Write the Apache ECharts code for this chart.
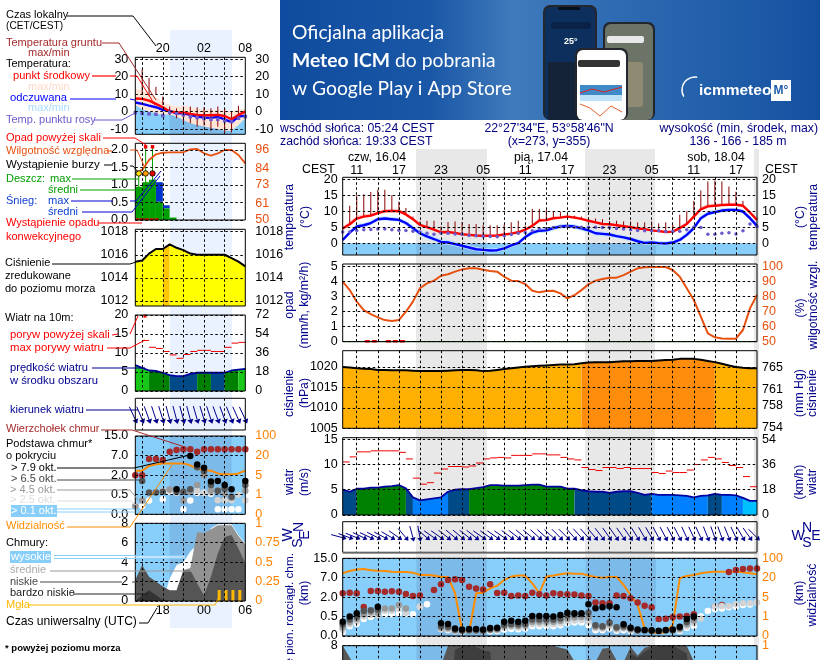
<!DOCTYPE html>
<html><head><meta charset="utf-8">
<style>html,body{margin:0;padding:0;background:#fff}#c{width:820px;height:660px}</style>
<script src="https://cdn.jsdelivr.net/npm/echarts@6/dist/echarts.min.js"></script>
</head><body><div id="c"></div>
<script>
// ---------- main meteogram (hourly, CEST hours counted from 16.04 00:00) ----------
const hoursMain=Array.from({length:60},(_,i)=>9+i);
const dayLabels=['czw, 16.04','pią, 17.04','sob, 18.04'];
const tempMain=[4.6,5.9,7.7,8.3,8.6,9.4,10,10.1,10,9,7.5,5.7,5,4.2,3.4,3.5,3.2,2.8,2.6,2.4,2.3,2.3,2.4,2.7,3,3.4,4.2,5.4,7.1,7.2,7.8,8,8.3,8,7.6,7,6.5,6,5.9,5.6,5.3,5,4.6,4.4,4,3.75,3.5,3.6,4.7,6,8.3,10.6,11.5,11.7,11.9,12,12,11.7,9.6,7.3];
const tempMaxMain=[5.2,6.8,8.6,9.1,9.3,10,10.6,10.8,10.6,9.6,8,6.2,5.4,4.6,3.8,3.9,3.5,3.1,2.9,2.7,2.6,2.6,2.7,3,3.4,3.8,4.6,6,7.7,7.8,8.3,8.5,8.7,8.5,8,7.4,6.9,6.3,6.2,5.9,5.6,5.3,4.9,4.7,4.3,4,3.8,3.9,5.2,6.7,9,11.4,12.3,12.4,12.6,12.7,12.6,12.3,10.1,7.8];
const tempMinMain=[4.2,5.5,7.3,7.9,8.2,9,9.6,9.7,9.6,8.6,7.2,5.5,4.8,4,3.2,3.3,3,2.6,2.4,2.2,2.1,2.1,2.2,2.5,2.8,3.2,4,5.2,6.8,7,7.6,7.8,8.1,7.8,7.4,6.8,6.3,5.8,5.7,5.4,5.1,4.8,4.4,4.2,3.8,3.5,3.3,3.4,4.5,5.7,8,10.3,11.2,11.4,11.6,11.7,11.7,11.4,9.3,7];
const feelMain=[1,3.3,5.2,5.6,6.3,7.5,7.7,7.5,7.3,6.3,4.7,3.1,2.1,1.3,.4,.2,-.3,-.8,-1.35,-1.9,-2.1,-2.3,-2.2,-1.6,-.7,0,1.9,3.3,3.9,4,4.7,5.2,5.4,5.2,4.6,4,3.1,2.9,2.7,2.2,1.8,1.3,.6,.1,.2,0,-.1,.2,1,2.6,4.7,7.8,9.2,9.7,10.2,10.4,10.4,9.9,7.8,5.4];
const feelMaxMain=[1.5,4,6,6.3,7,8.2,8.4,8.2,8,7,5.5,4,3,2.1,1.2,1,.5,0,-.6,-1.2,-1.5,-1.7,-1.6,-1,-.1,.7,2.7,4.1,4.7,4.8,5.4,5.9,6.1,5.9,5.3,4.7,3.9,3.6,3.4,2.9,2.5,2,1.3,.8,.9,.7,.6,.9,1.8,3.4,5.6,8.6,10,10.4,10.9,11,11,10.6,8.6,6.2];
const feelMinMain=[.5,2.7,4.5,5,5.7,6.9,7.1,6.9,6.7,5.7,4,2.4,1.4,.6,-.3,-.5,-1,-1.5,-2,-2.5,-2.7,-2.9,-2.8,-2.2,-1.3,-.6,1.2,2.6,3.2,3.3,4,4.5,4.7,4.5,3.9,3.3,2.4,2.2,2,1.5,1.1,.6,0,-.5,-.4,-.6,-.7,-.4,.4,1.9,4,7.2,8.6,9.1,9.6,9.8,9.8,9.3,7.2,4.7];
const dewMain=[3.5,3.5,4,4.2,4.3,4.4,4.4,4.2,4.05,3.95,3.75,3.5,3.1,2.8,3.1,3.1,2.9,2.8,2.4,2.3,2.2,2.1,2,2.3,2.7,3.1,3.3,3.85,4.4,4.6,4.9,5.2,5.2,5,5,5,5,4.9,4.9,4.6,4.4,4.2,3.95,3.85,3.85,3.85,3.65,3.65,3.75,4.2,5,4.9,2.8,2.8,3.1,3.25,2.9,3.85,6,5.2];
const groundMaxMain=[null,11.7,15,15.3,16,16.7,16.7,15,13,11,8.3,6.8,7,7,5.2,6.6,6.8,6.6,6,6,5.6,5.6,5.6,5.8,6.5,7,5.5,10.7,10.7,10.4,10,9.8,8.9,8.6,8.3,7.6,7.7,7.5,6.9,7,6.8,6.8,6.5,6.5,6.8,6.2,6.5,5.8,8.9,9.9,13.2,16.5,19.3,19.6,19.3,17.7,16.1,13.2,null,null];
const humidityMain=[90,84.4,76.7,71,68.4,66.2,64.4,63.8,64.4,70,76.7,85.6,88.9,90.7,94,95,96.7,98.2,98.9,98.9,98,97.1,96.7,93.3,90.7,90.4,88.4,84,82.9,83.8,84,82.2,78.9,81,84.4,88.2,90.7,91.8,92.7,92.7,94.4,96.7,98.9,99.6,99.8,99.8,99.8,97.8,93.3,85.6,77.8,66.7,55.6,52.9,52.2,52,52,57.8,72.2,81.1];
const precipMain=[0,0,0,0,0,0,0,0,0,0,0,0,0,0,0,0,0,0,0,0,0,0,0,0,0,0,0,0,0,0,0,0,0,0,0,0,0,0,0,0,0,0,0,0,0,0,0,0,0,0,0,0,0,0,0,0,0,0,0,0];
const convectiveMain=[12.5,13.5,15.5,16.5,17.5];
const pressureMain=[1020,1019.9,1019.7,1019.6,1019.5,1019.3,1019.3,1019.2,1019.2,1019.2,1019.1,1019,1019,1019,1019,1019.1,1019.2,1019.3,1019.3,1019.2,1019,1019.1,1019.3,1019.5,1019.7,1019.9,1020.1,1020.2,1020.3,1020.4,1020.5,1020.6,1020.6,1020.7,1020.9,1021.1,1021.2,1021.2,1021.2,1021.3,1021.4,1021.4,1021.5,1021.5,1021.5,1021.6,1021.7,1021.8,1022,1022,1022,1021.8,1021.5,1021.2,1020.8,1020.4,1020,1019.8,1019.7,1019.7];
const pressureBandMain='AAAAAAAAAAAAAAAAAAAAAAAAAAAAAAAAAAOOOOOOOOOOOOOOOOOOOAAAAAA';
const windMain=[5,4.6,5.2,5.2,5.4,5.4,5.6,5.7,5.9,5.3,3.5,2.9,3.1,3.3,3.5,4.6,5,5.1,5.1,5.3,5.5,5.9,5.9,5.8,5.8,5.8,5.9,6,6,5.6,5.6,5.6,5.2,5.2,4.9,4.7,4.6,4.6,4.4,4.6,4.7,4.7,4.4,4,4.2,4,4,4,3.9,3.8,3.5,3.8,3.9,4.2,4,4,3.9,3.4,2.8,2.8];
const windBandMain='NNGGGGGGGNBBBBBNNNGGGGGGGGGGGGGGGNNNNNNNNNNNBBBBBBBBNNBBBCC';
const gustMain=[10.5,11.5,12.5,12.5,12.7,12.7,12.7,12.7,12.4,11.1,7.3,6.1,6.4,8.3,9.1,9.6,9.6,9.5,9.7,10.3,11.1,11.3,11.4,11.3,11.8,11.8,11.8,12.1,12.1,11.9,11.9,11.4,11.1,10.9,9.4,9,8.8,9.4,9.4,9.2,9.4,9.2,9.2,9.2,8.4,8.2,8.7,8.4,8.4,8.9,10,10.9,11.4,11.1,10.4,9.8,9.4,7.6,5.6];
const windDirMain=[285,290,292,295,295,297,298,300,305,320,345,350,310,305,305,308,310,310,308,308,305,305,305,305,307,308,310,310,312,312,312,315,315,318,318,318,320,322,325,325,325,325,328,330,330,332,332,332,332,335,335,335,338,340,340,338,335,330,325,315];
// cloud panels: values are given in axis steps (tick 0..4 = 0 / 0.5 / 2 / 7 / 15 km)
const cloudTopMain=[2.2,2.23,2.2,1.49,2.32,2.32,2.28,2.3,2.28,2.16,2.06,2.08,null,2.37,2.66,2.88,2.92,2.88,2.54,2.45,2.4,2.66,2.21,2.23,2.06,2.09,2.06,2.23,2.15,2.09,2.2,2.16,2.15,2.13,2.08,2.06,1.73,1.68,1.68,2.08,2.06,1.94,1.73,1.56,1.48,.88,.89,.96,1,1.03,1.12,null,null,1.51,1.6,3.3,3.4,3.45,3.47,3.47];
const base79Main=[.74,1,1.17,null,null,1.51,null,null,null,null,null,null,null,null,.65,.62,.38,.34,.36,.36,.34,.41,.43,.74,.79,.74,.79,1.03,1.03,1.03,1,1.08,1.2,1.17,1.17,1.63,1.43,1.48,1.53,1.48,.6,.43,.34,.31,.29,.27,.31,.34,.48,.88,1,null,null,null,null,null,null,null,null,null];
const base65Main=[.6,.85,1,1.29,1.33,1.35,null,null,null,null,null,null,null,null,.5,.48,.32,.28,.3,.3,.28,.35,.38,.58,.62,.6,.62,.85,.85,.85,.85,.9,1.05,1.1,1.12,1.2,.55,.5,.7,.45,.5,.38,.3,.28,.26,.25,.28,.3,.42,.72,.95,null,null,null,null,null,null,null,null,null];
const base45Main=[.45,.72,.88,1.12,1.22,1.2,1.42,1.42,1.6,1.42,null,null,null,null,.42,.4,.28,.25,.27,.27,.25,.32,.34,.5,.54,.52,.54,.74,.74,.74,.74,.78,.9,.95,.98,.95,.47,.44,.6,.4,.44,.34,.27,null,null,null,null,.27,.36,.6,.8,null,null,null,null,null,null,null,null,null];
const base25Main=[.32,.6,.75,1,1.1,1.05,1.3,1.3,1.4,1.2,null,1.5,null,null,.35,.34,.25,null,null,null,null,.28,.3,.42,.47,.44,.47,.62,.62,.62,.62,.66,.75,.8,.82,.72,.4,.38,.5,.34,.38,.3,null,null,null,null,null,null,.3,.5,.66,.9,null,1.52,1.55,1.55,1.63,1.68,1.68,1.72];
const base01Main=[.2,.5,.63,.87,.98,1.15,1.12,1.12,1.17,1.15,1.12,1.51,1.63,null,.57,.3,.24,.22,null,null,null,.24,.26,.33,.36,.35,.38,.5,.5,.5,.5,.55,.65,.7,.7,.55,.3,.3,.38,.27,.3,.25,null,null,null,null,null,null,.26,.42,.52,1,1.29,1.39,1.42,1.48,1.51,1.6,1.62,1.72];
const visibilityMain=[3.23,3.35,3.42,3.45,3.38,3.36,3.35,3.31,3.3,3.3,3.26,3.14,3.14,3.11,3.04,3.04,2.2,.31,.19,2.2,2.23,2.45,2.59,2.88,3.06,3.11,3.11,2.71,2.2,3.06,3.11,3.18,3.23,3.21,3.21,3.11,3.04,3,3.04,3.04,2.63,2.11,1.6,.39,.19,.15,.19,.57,2.97,3.09,3.14,3.23,3.28,3.31,3.31,3.31,3.31,3.28,3.23,3.18];
const cloudsLowMain=[8,6.8,5.5,5,4.8,4.5,4.5,4.5,4.5,4.6,4.8,5,5.2,5.6,6,8,8,8,8,8,8,8,8,8,8,8,8,8,8,8,8,7.8,7.6,6.4,6,6.7,6.3,7.7,7.8,6.5,6.3,7.9,7,7.8,8,8,8,8,8,8,6.4,5.5,5,5,5,5,5,5,5,5];
const cloudsVeryLowMain=[0,0,0,0,0,0,0,0,0,0,0,0,0,0,0,0,7.6,7.9,8,7.9,7.5,7.4,0,0,0,0,0,0,0,0,0,0,0,0,0,0,0,0,0,0,0,7.2,6.8,7.4,7.8,8,8,8,7.6,7.2,0,0,0,0,0,0,0,0,0,0];
// ---------- small left key panel (sample forecast, 16:00 -> 08:00) ----------
const hoursKey=[16,17,18,19,20,21,22,23,24,25,26,27,28,29,30,31,32];
const tempKey=[7.5,7.3,6.3,4.4,2.5,0,-.4,-.6,-1.3,-1.9,-2.1,-2.1,-1.9,-2.5,-4.4,-1.9,0];
const tempTopKey=[13.4,12,10.5,8.2,5.7,3.8,2.9,3.3,2.5,1.7,1.3,1,1,.6,0,1,1.9];
const feelKey=[5.2,4.4,3.4,2.5,1,.4,-1,-1,-1.9,-2.9,-3.4,-3.6,-3,-4.4,-6.1,-2.9,-2.3];
const feelTopKey=[3.8,1.3,0,-1,-1.9,-1.5,-2.9,-4.8,-6.7,-7.7,-8.6,-9.2,-10,-11,-11,-7.7,-3.8];
const dewKey=[-.6,-1,-1.3,-1.5,-2.3,-.4,-1,-1.9,-2.9,-3.4,-4,-4.4,-4.4,-5.2,-5.7,-3.8,-2.9];
const groundMaxKey=[null,24.3,19.2,14.2,8.6,2.9,1.9,2.9,2.9,2.5,2.5,1.9,2.9,1.9,0,3.3,null];
const groundMinKey=[null,9.6,9,10,3.8,-2,-3.8,-6.7,-6.7,-8.6,-8,-11,-8.6,-12,-12,-4.8,null];
const humidityKey=[80.7,82.9,89.4,93.2,94.2,94.5,94.5,94.5,96.4,96.7,93.8,92.3,93.8,96,96,92.7,87.2];
const rainKey=[.95,1.08,1.15,.52,.33,.07,0,0,0,0,0,0,0,0,0,0];
const snowTopKey=[0,0,0,1.08,.42,0,0,0,0,0,0,0,0,0,0,0];
const rainMaxHours=[16.5,17.5,18.5];
const rainMaxKey=[1.33,2.05,2.1];
const stormColors=['#FFE000','#FFA000','#E00000'];
const overScaleHours=[17.5,18.5];
const convectiveKey=[16.3,17,17.7,18.4,19.1];
const pressureKey=[1015.4,1015.5,1016.1,1016.5,1016.5,1016.9,1016.6,1016.4,1016.1,1016,1016,1016,1016,1016,1015.7,1015.4,1015];
const pressureBandKey='YYYYOYYYYYYYYYYY';
const windKey=[6.8,6.1,5.4,5.3,4.8,4.2,3.9,3.9,4.5,4.8,4.8,4.8,4.8,4.8,5.4,5.6,5.8];
const windBandKey='LLGGGNNNNGGNNGGL';
const gustKey=[null,13.3,11.5,11.2,10.4,9.5,8.6,9.6,10.4,10.7,10.7,10.4,10.4,11.5,12.6,12.8];
const windDirKey=[335,337,340,342,343,345,345,345,345,344,343,342,340,340,338,336,335];
const cloudTopKey=[2,2,2.83,2.83,2.77,3.2,3.29,3.32,3.32,3.2,3.32,3.32,3.32,3.32,3.32,3.32,3.32];
const base79Key=[null,null,null,null,null,null,1.28,null,2.98,2.55,2.38,1.67,1.7,1.5,1.28,null,1.7];
const base65Key=[null,1.7,1.12,1.12,1.15,null,1.15,1.15,1.28,2.4,2.2,1.5,1.2,1.3,.9,null,1.5];
const base45Key=[.4,.7,null,null,null,1.27,1.25,.7,1.15,1.5,2,1.2,1.2,1.05,.85,null,1.2];
const base25Key=[.45,null,null,null,1.2,1.2,1.1,null,null,1.2,1.1,1.1,.72,.72,.72,1,.7];
const base01Key=[null,.43,.7,null,.77,1.15,1.15,.26,.7,1.1,1.1,1.05,.26,.26,.26,.26,null];
const visibilityKey=[2.23,2.23,2.47,2.55,2.6,2.6,2.6,2.6,2.5,2.33,2.26,2.23,2.09,2.04,2.04,2.09,2.23];
const cloudsHighKey=[0,0,0,0,0,2.3,3.7,4,5.1,5.8,5.95,7.5,7.9,7.9,7.9,6.8,5.95];
const cloudsMidKey=[0,0,0,0,0,0,.4,3.2,3.4,7.1,7,7.4,7.8,7.8,7.8,6.7,5.85];
const cloudsLowKey=[2.2,3.7,2.5,2,1.5,1.1,1.1,3.2,3.2,1.8,.6,2.5,4.9,6.6,6.8,5.4,3.9];
const cloudsVeryLowKey=[0,.6,1.1,.6,.1,0,0,0,0,0,0,0,0,0,0,0,0];
const fogHours=[28.2,29.2,30.2,31.2];
const fogKey=[1.13,1.13,1.13,1.13];
// tick labels
const tickMainTop=[11,17,23,29,35,41,47,53,59,65];
const tickKeyTop=[20,26,32];
const cloudBaseLabels=['0.0','0.5','2.0','7.0','15.0'];
const visibilityLabels=['0','1','5','20','100'];

const FONT='"Liberation Sans",Arial,sans-serif';
const SKY='#87CEFA';
const NIGHT='rgba(70,90,150,0.17)';
const xMainGrid=[11,14,17,20,23,26,29,32,35,38,41,44,47,50,53,56,59,62,65];
const xKeyGrid=[17,20,23,26,29];
const pad=v=>String(((v%24)+24)%24).padStart(2,'0');

const grids=[],xAxes=[],yAxes=[],series=[];
const zip=(xs,ys)=>xs.map((x,i)=>[x,ys[i]===undefined?null:ys[i]]);
const nn=(xs,ys)=>zip(xs,ys).filter(d=>d[1]!=null);
function panel(cfg){
  const id=grids.length, main=cfg.main;
  grids.push({left:main?342.7:135.3,top:cfg.top,width:main?414.3:110,height:cfg.h,show:true,backgroundColor:'transparent',borderColor:'#000',borderWidth:1,z:8,containLabel:false,outerBoundsMode:'none'});
  const xg=main?xMainGrid:xKeyGrid;
  xAxes.push({type:'value',gridIndex:id,min:main?9:16,max:main?68:32,position:cfg.xPos||'top',z:5,
    axisLine:{show:false},axisTick:{show:false,customValues:xg},
    axisLabel:{show:!!cfg.xLabels,customValues:cfg.xLabels||[],margin:main?0:(cfg.xPos?3:2),color:'#000',fontFamily:FONT,fontSize:12.5,formatter:cfg.xFmt||(v=>pad(v))},
    splitLine:{show:true,lineStyle:{color:'#000',type:[2.5,2.5],width:1}}});
  const yA=(o,side)=>({type:'value',gridIndex:id,position:side,min:o.min,max:o.max,z:5,
    axisLine:{show:false},axisTick:{show:false,customValues:o.ticks},
    axisLabel:{show:!!o.ticks.length,customValues:o.ticks,margin:side==='left'?(main?5:7):(main?5:10),color:o.color||'#000',fontFamily:FONT,fontSize:12.5,showMinLabel:true,showMaxLabel:true,formatter:o.fmt||(v=>String(v))},
    splitLine:{show:side==='left'&&!o.noSplit,lineStyle:{color:'#000',type:[2.5,2.5],width:1}}});
  yAxes.push(yA(cfg.l,'left'));
  yAxes.push(yA(cfg.r,'right'));
  return id;
}
const ax=(g,right)=>({xAxisIndex:g,yAxisIndex:g*2+(right?1:0)});
const common={silent:true,animation:false,z:2};
function line(g,xs,ys,color,width,right){series.push({type:'line',...ax(g,right),...common,data:zip(xs,ys),showSymbol:false,connectNulls:false,lineStyle:{color,width:width||2}});}
function area(g,xs,ys,color,right){series.push({type:'line',...ax(g,right),...common,data:zip(xs,ys),showSymbol:false,lineStyle:{width:0,color},itemStyle:{color},areaStyle:{color,opacity:1,origin:'start'}});}
function bandAreas(g,xs,ys,bands,colors){
  let s=0;
  for(let i=1;i<=bands.length;i++){
    if(i===bands.length||bands[i]!==bands[s]){ area(g,xs.slice(s,i+1),ys.slice(s,i+1),colors[bands[s]]); s=i; }
  }
}
function dots(g,xs,ys,color,size,sym,right,extra){series.push({type:'scatter',...ax(g,right),...common,clip:true,data:nn(xs,ys),symbol:sym||'circle',symbolSize:size,itemStyle:Object.assign({color,opacity:1},extra||{})});}
function custom(g,data,render,right,clip){series.push({type:'custom',...ax(g,right),...common,clip:!!clip,data,renderItem:render,encode:{x:0,y:1}});}
function sticks(g,xs,lo,hi,color,w){
  const d=xs.map((x,i)=>[x,lo[i],hi[i]]).filter(r=>r[2]!=null&&r[1]!=null);
  custom(g,d,(p,api)=>{const a=api.coord([api.value(0),api.value(1)]),b=api.coord([api.value(0),api.value(2)]);
    return {type:'line',shape:{x1:a[0],y1:a[1],x2:b[0],y2:b[1]},style:{stroke:color,lineWidth:w||1}};});
}
function band(g,xs,lo,hi,color){
  const d=xs.slice(0,-1).map((x,i)=>[x,lo[i],hi[i],xs[i+1],lo[i+1],hi[i+1]]);
  custom(g,d,(p,api)=>{const v=k=>api.value(k);
    const pts=[api.coord([v(0),v(1)]),api.coord([v(0),v(2)]),api.coord([v(3),v(5)]),api.coord([v(3),v(4)])];
    return {type:'polygon',shape:{points:pts},style:{fill:color}};});
}
function gustSegs(g,xs,vals,color){
  const d=vals.map((v,i)=>[xs[i],v,xs[i+1]]).filter(r=>r[1]!=null);
  custom(g,d,(p,api)=>{const a=api.coord([api.value(0),api.value(1)]),b=api.coord([api.value(2),api.value(1)]);
    return {type:'line',shape:{x1:a[0],y1:a[1],x2:b[0],y2:b[1]},style:{stroke:color,lineWidth:1}};});
}
function steps(g,xs,lo,hi,color){
  const d=hi.map((v,i)=>[xs[i],lo?lo[i]:0,v,xs[i+1]]).filter(r=>r[2]>r[1]);
  custom(g,d,(p,api)=>{const a=api.coord([api.value(0),api.value(2)]),b=api.coord([api.value(3),api.value(1)]);
    return {type:'rect',shape:{x:a[0],y:a[1],width:b[0]-a[0],height:b[1]-a[1]},style:{fill:color}};});
}
function night(g,spans,yTop,yBottom,right){
  custom(g,spans.map(s=>[s[0],yTop,s[1],yBottom]),(p,api)=>{const a=api.coord([api.value(0),api.value(1)]),b=api.coord([api.value(2),api.value(3)]);
    return {type:'rect',shape:{x:a[0],y:a[1],width:b[0]-a[0],height:b[1]-a[1]},style:{fill:NIGHT}};},right,true);
}
function arrows(g,xs,dirs,row,L,head){
  custom(g,xs.map((x,i)=>[x,row,dirs[i]]),(p,api)=>{
    const c=api.coord([api.value(0),api.value(1)]),d=api.value(2)*Math.PI/180,s=Math.sin(d),k=Math.cos(d);
    const tip=[c[0]-s*head,c[1]+k*head],bl=[c[0]+k*head*.7,c[1]+s*head*.7],br=[c[0]-k*head*.7,c[1]-s*head*.7];
    return {type:'group',children:[
      {type:'line',shape:{x1:c[0],y1:c[1],x2:c[0]+s*L,y2:c[1]-k*L},style:{stroke:'#00008B',lineWidth:1}},
      {type:'polygon',shape:{points:[tip,bl,br]},style:{fill:'#00008B'}}]};
  });
}
function widthBars(g,xs,vals,color,w){
  custom(g,xs.map((x,i)=>[x,vals[i]]),(p,api)=>{const a=api.coord([api.value(0),api.value(1)]),b=api.coord([api.value(0),0]);
    return {type:'rect',shape:{x:a[0]-w/2,y:a[1],width:w,height:b[1]-a[1]},style:{fill:color}};});
}
const nightMain=[[19.5,29.5],[43.6,53.6],[67.8,68]];
const nightKey=[[21,30]];
const WIND_COL={N:'#004B87',G:'#008000',B:'#0080FF',C:'#00C0FF',L:'#18C818'};
const PRESS_COL={A:'#FFB000',O:'#FF8C0A',Y:'#FFFF00'};
const ORANGE='#FF8000', HUM='#E8500F';

// ---- main panels ----
const mT=panel({main:1,top:177.3,h:77.7,xLabels:tickMainTop,l:{min:-3.7,max:20.6,ticks:[0,5,10,15,20]},r:{min:-3.7,max:20.6,ticks:[0,5,10,15,20]}});
const extX=[9,68];
area(mT,extX,[0,0],SKY);
night(mT,nightMain,0,-3.7);
band(mT,hoursMain,tempMinMain,tempMaxMain,'#FFD2D2');
band(mT,hoursMain,feelMinMain,feelMaxMain,'#BDE4FF');
sticks(mT,hoursMain,tempMain,groundMaxMain,'#8B0000',1);
dots(mT,hoursMain,dewMain,'#6A5ACD',3.5);
line(mT,hoursMain,feelMain,'#0000FF',2.4);
line(mT,hoursMain,tempMain,'#FF0000',2.4);

const mP=panel({main:1,top:264,h:77.7,l:{min:0,max:5.18,ticks:[0,1,2,3,4,5]},r:{min:50,max:101.8,ticks:[50,60,70,80,90,100],color:HUM}});
line(mP,hoursMain,precipMain,'#0A0',1);
dots(mP,convectiveMain,convectiveMain.map(()=>0.03),'#F00000',[5,2.5],'rect');
line(mP,hoursMain,humidityMain,HUM,2,true);

const mC=panel({main:1,top:350.7,h:77.6,l:{min:1005,max:1024,ticks:[1005,1010,1015,1020]},r:{min:753.8,max:768.05,ticks:[754,758,761,765]}});
bandAreas(mC,hoursMain,pressureMain,pressureBandMain,PRESS_COL);
line(mC,hoursMain,pressureMain,'#000',2);

const mW=panel({main:1,top:437.7,h:77.3,l:{min:0,max:15.3,ticks:[0,5,10,15]},r:{min:0,max:55.08,ticks:[0,18,36,54]}});
bandAreas(mW,hoursMain,windMain,windBandMain,WIND_COL);
line(mW,hoursMain,windMain,'#0000A0',1.8);
gustSegs(mW,hoursMain,gustMain,'#F00000');

const mD=panel({main:1,top:521.7,h:30.6,l:{min:0,max:1,ticks:[],noSplit:true},r:{min:0,max:1,ticks:[]}});
arrows(mD,hoursMain,windDirMain,.477,12,4);

const mB=panel({main:1,top:558.3,h:77.7,l:{min:0,max:4,ticks:[0,1,2,3,4],fmt:v=>cloudBaseLabels[v]},r:{min:0,max:4,ticks:[0,1,2,3,4],color:ORANGE,fmt:v=>visibilityLabels[v]}});
area(mB,extX,[4,4],SKY);
night(mB,nightMain,4,0);
dots(mB,hoursMain,cloudTopMain,'#A52A2A',6.5);
dots(mB,hoursMain,base01Main,'#FFFFFF',6.5);
dots(mB,hoursMain,base25Main,'#D3D3D3',6.5);
dots(mB,hoursMain,base45Main,'#999999',6.5);
dots(mB,hoursMain,base65Main,'#555555',6.5);
dots(mB,hoursMain,base79Main,'#000000',6.5);
line(mB,hoursMain,visibilityMain,'#FF8C00',2,true);

const mK=panel({main:1,top:645.7,h:78,l:{min:0,max:8,ticks:[0,2,4,6,8]},r:{min:0,max:1,ticks:[0,.25,.5,.75,1],color:ORANGE}});
area(mK,extX,[8,8],SKY);
night(mK,nightMain,8,0);
area(mK,hoursMain,cloudsLowMain,'#585858');
area(mK,hoursMain,cloudsVeryLowMain,'#3E3E3E');

// ---- key panels ----
const kT=panel({top:57.3,h:77,xLabels:tickKeyTop,l:{min:-13,max:31.1,ticks:[-10,0,10,20,30]},r:{min:-13,max:31.1,ticks:[-10,0,10,20,30]}});
area(kT,hoursKey,tempTopKey,'#FFE4D8');
area(kT,hoursKey,feelTopKey,SKY);
band(kT,hoursKey.slice(5,15),feelTopKey.slice(5,15).map(()=>-13),feelTopKey.slice(5,15),NIGHT);
sticks(kT,hoursKey,groundMinKey,groundMaxKey,'#8B0000',1);
dots(kT,hoursKey,dewKey,'#6A5ACD',3.5,'rect');
line(kT,hoursKey,feelKey,'#0000FF',2.4);
line(kT,hoursKey,tempKey,'#FF0000',2.4);

const kP=panel({top:143.3,h:76.7,l:{min:0,max:2.19,ticks:[0,.5,1,1.5,2],fmt:v=>v.toFixed(1)},r:{min:50,max:100.4,ticks:[50,61,73,84,96],color:HUM}});
steps(kP,hoursKey,rainKey,snowTopKey,'#0033CC');
steps(kP,hoursKey,null,rainKey,'#00A000');
sticks(kP,rainMaxHours,rainMaxKey.map(()=>0.9),rainMaxKey,'#00A000',1);
dots(kP,overScaleHours,[2.09,2.09],'#F00000',3.5,'rect');
rainMaxHours.forEach((h,i)=>dots(kP,[h],[1.33],stormColors[i],5.5,'circle',false,{borderColor:'#000',borderWidth:.8}));
dots(kP,convectiveKey,convectiveKey.map(()=>0.02),'#F00000',[4,2],'rect');
line(kP,hoursKey,humidityKey,HUM,1.8,true);

const kC=panel({top:229.3,h:76.7,l:{min:1011.57,max:1018.2,ticks:[1012,1014,1016,1018]},r:{min:1011.57,max:1018.2,ticks:[1012,1014,1016,1018]}});
bandAreas(kC,hoursKey,pressureKey,pressureBandKey,{Y:'#FFFF00',O:'#FFC800'});
line(kC,hoursKey,pressureKey,'#000',2);

const kW=panel({top:315,h:76,l:{min:0,max:20,ticks:[0,5,10,15,20]},r:{min:0,max:72,ticks:[0,18,36,54,72]}});
bandAreas(kW,hoursKey,windKey,windBandKey,WIND_COL);
line(kW,hoursKey,windKey,'#0000A0',1.8);
gustSegs(kW,hoursKey,gustKey,'#F00000');
dots(kW,[17.4],[19.7],'#F00000',3,'rect');

const kD=panel({top:398.3,h:31.7,l:{min:0,max:1,ticks:[],noSplit:true},r:{min:0,max:1,ticks:[]}});
arrows(kD,hoursKey,windDirKey,.33,14,4.5);

const kB=panel({top:436,h:78.3,l:{min:0,max:4,ticks:[0,1,2,3,4],fmt:v=>cloudBaseLabels[v]},r:{min:0,max:4,ticks:[0,1,2,3,4],color:ORANGE,fmt:v=>visibilityLabels[v]}});
area(kB,[16,32],[4,4],SKY);
night(kB,nightKey,4,0);
dots(kB,hoursKey,cloudTopKey,'#A52A2A',6.5);
dots(kB,hoursKey,base01Key,'#FFFFFF',6.5);
dots(kB,hoursKey,base25Key,'#D3D3D3',6.5);
dots(kB,hoursKey,base45Key,'#999999',6.5);
dots(kB,hoursKey,base65Key,'#555555',6.5);
dots(kB,hoursKey,base79Key,'#000000',6.5);
line(kB,hoursKey,visibilityKey,'#FF8C00',2,true);

const kK=panel({top:523.3,h:77.7,xPos:'bottom',xLabels:[20,26,32],xFmt:v=>pad(v-2),l:{min:0,max:8,ticks:[0,2,4,6,8]},r:{min:0,max:1,ticks:[0,.25,.5,.75,1],color:ORANGE}});
area(kK,[16,32],[8,8],SKY);
night(kK,nightKey,8,0);
area(kK,hoursKey,cloudsHighKey,'#FFFFFF');
area(kK,hoursKey,cloudsMidKey,'#929292');
area(kK,hoursKey,cloudsLowKey,'#555555');
area(kK,hoursKey,cloudsVeryLowKey,'#333333');
widthBars(kK,fogHours,fogKey,'#FFB800',3);

// ---- page furniture: text, leader lines, banner ----
const gfx=[];
const f=(s,b)=>(b?'bold ':'')+s+'px '+FONT;
const mctx=document.createElement('canvas').getContext('2d');
function fit(text,w,bold,floor){mctx.font=f(100,bold);return Math.min(12.6,Math.max(floor||11,100*w/mctx.measureText(text).width));}
function T(text,x,y,fill,o){o=typeof o==='number'?{w:o}:(o||{});
  const font=o.w?f(fit(text,o.w,o.bold,o.floor),o.bold):(o.font||f(12.3));
  gfx.push({type:'text',z:30,x:o.rot?x:0,y:o.rot?y:0,rotation:o.rot?Math.PI/2:0,silent:true,
  style:{text,x:o.rot?0:x,y:o.rot?0:y,fill:fill||'#000',font,align:o.align||(o.rot?'center':'left'),verticalAlign:'middle'}});}
function L(points,color,w){gfx.push({type:'polyline',z:28,silent:true,shape:{points},style:{stroke:color,lineWidth:w||1,fill:null}});}
function R(x,y,w,h,fill,z,r){gfx.push({type:'rect',z:z===undefined?-50:z,silent:true,shape:{x,y,width:w,height:h,r:r||0},style:{fill}});}

// background day/night strips
R(170,30,62,598,'#EAF2FF');
R(416,149,71,511,'#E8E8E8');
R(585,149,70,511,'#E8E8E8');
R(754,149,5,511,'#E8E8E8');
L([[342.7,553.3],[757,553.3]],'#999',1.5);

// banner
gfx.push({type:'rect',z:20,silent:true,shape:{x:280,y:0,width:540,height:120},style:{fill:new echarts.graphic.LinearGradient(0,0,1,0,[{offset:0,color:'#0F4C9F'},{offset:.28,color:'#1A57A6'},{offset:.43,color:'#3F7ABB'},{offset:.62,color:'#2F6BB2'},{offset:.85,color:'#1F5CA8'},{offset:1,color:'#134F9F'}])}});
const B=(t,x,y,font,fill,align)=>gfx.push({type:'text',z:22,silent:true,style:{text:t,x,y,font,fill:fill||'#fff',align:align||'left',verticalAlign:'middle'}});
B('Oficjalna aplikacja',292,33,'19.3px Lato');
B('Meteo ICM',292,61,'bold 19.3px Lato');
B('do pobrania',395,61,'19.3px Lato');
B('w Google Play i App Store',292,89,'19.3px Lato');
R(543,5,54,115,'#23262c',21,7);R(545,7,50,113,'#0D2F5E',21,6);
R(551,22,40,7,'#0A2248',21,2);R(558,7,22,3,'#05101f',21,1);
B('25°',564,42,'bold 9px "Liberation Sans"');
R(548,62,44,58,'#142338',21,2);
R(603,22,52,98,'#23262c',21,7);R(605,24,48,96,'#6C7468',21,6);
R(607,36,37,7,'#E8E8E8',21,2);R(625,62,18,45,'#8E8B72',21,3);
R(575,48,53,72,'#23262c',21,7);R(577,50,49,70,'#FFFFFF',21,6);
R(578,60,42,7,'#333',21,2);R(580,85,42,10,'#3E8BC8',21,0);R(580,95,42,6,'#BFE1F7',21,0);
gfx.push({type:'polyline',z:22,silent:true,shape:{points:[[580,93],[592,89],[604,92],[622,87]]},style:{stroke:'#E02020',lineWidth:1,fill:null}});
gfx.push({type:'polyline',z:22,silent:true,shape:{points:[[580,104],[590,108],[600,116],[611,106],[622,112]]},style:{stroke:'#E06030',lineWidth:1,fill:null}});
gfx.push({type:'arc',z:22,silent:true,shape:{cx:695,cy:90,r:13,startAngle:-1.4,endAngle:2.6,clockwise:false},style:{stroke:'#fff',lineWidth:1.4,fill:null}});
B('icmmeteo',699,91,'bold 15.5px "Liberation Sans"');
R(771,80,20,21,'#FFFFFF',21);
B('M°',781,91,'bold 12px "Liberation Sans"','#1F5CA8','center');

// top header of main chart
const NAVY='#000080';
T('wschód słońca: 05:24 CEST',280,129,NAVY);
T('zachód słońca: 19:33 CEST',280,142,NAVY);
T('22°27\'34"E, 53°58\'46"N',549,129,NAVY,{align:'center'});
T('(x=273, y=355)',549,142,NAVY,{align:'center'});
T('wysokość (min, środek, max)',818,129,NAVY,{align:'right'});
T('136 - 166 - 185 m',738,142,NAVY,{align:'center'});
T(dayLabels[0],377,158,'#000',{align:'center'});
T(dayLabels[1],541,158,'#000',{align:'center'});
T(dayLabels[2],716,158,'#000',{align:'center'});
T('CEST',302,170,'#000');
T('CEST',765,170,'#000');

// rotated axis names
const Y='#00008B';
[['temperatura',290,217],['(°C)',306,217],['opad',290,305],['(mm/h, kg/m²/h)',305,305],['ciśnienie',290,393],['(hPa)',305,393],['wiatr',290,482],['(m/s)',305,482],['(km)',305,593],
 ['(°C)',801,217],['temperatura',814,217],['(%)',801,308],['wilgotność wzgl.',814,305],['(mm Hg)',800,393],['ciśnienie',813,393],['(km/h)',800,482],['wiatr',813,482],['(km)',800,593],['widzialność',813,595]]
 .forEach(a=>T(a[0],a[1],a[2],Y,{rot:1}));
gfx.push({type:'text',z:30,x:290,y:553,rotation:Math.PI/2,silent:true,style:{text:'e pion. rozciągł. chm.',x:0,y:0,fill:Y,font:f(11.8),align:'right',verticalAlign:'middle'}});
[['W',288,535],['N',299,527],['S',298,543],['E',305,535]].forEach(a=>T(a[0],a[1],a[2],Y,{rot:1,font:f(14)}));
T('N',807,528,Y,{align:'center',font:f(14)});T('W',798,536,Y,{align:'center',font:f(14)});T('S',807,543,Y,{align:'center',font:f(14)});T('E',816,536,Y,{align:'center',font:f(14)});

// legend / key texts
const DR='#A52A2A',RED='#FF0000',BL='#0000FF',SL='#6A5ACD',OR='#E8500F',GR='#00A000',NV='#000090',AMB='#FF8C00';
T('Czas lokalny',6,15,'#000',59);T('(CET/CEST)',6,26.5,'#000',{w:54,floor:10.2});L([[67,16],[133,16],[156,46]],'#000');
T('Temperatura gruntu',6,43,DR,93);T('max/min',28,52.5,DR,38);L([[102,43],[119,43],[156,100]],DR);
T('Temperatura:',6,64,'#000',62);
T('punkt środkowy',13,76,RED,77);L([[92,76],[116,76]],RED,1.2);L([[130,76],[137,76],[155,105]],RED);
T('max/min',28,87,'#FFD9C8',38);
T('odczuwana',10,98,BL,57);L([[70,99],[116,99]],BL,1.2);L([[130,99],[135,100]],BL);
T('max/min',28,108,'#A8DCFF',38);
T('Temp. punktu rosy',6,120,SL,87);L([[94,120],[122,120],[135,113]],SL);
T('Opad powyżej skali',6,138,RED,95);L([[103,138],[135,138],[146,145]],RED);
T('Wilgotność względna',6,151,OR,97);L([[107,151],[112,151]],OR);L([[130,150],[137,150],[145,168]],OR);
T('Wystąpienie burzy',6,165,'#000',94);L([[104,165],[113,165]],'#000');L([[130,166],[133,166],[138,172]],'#000');
T('Deszcz:',6,179,GR,39);T('max',50,179,GR,21);L([[72,179],[139,179]],GR);
T('średni',48,190,GR,29);L([[80,190],[138,190]],GR);
T('Śnieg:',6,201,'#1040D0',31);T('max',48,201,'#1040D0',21);L([[71,201],[113,201]],'#0000CC');L([[130,201],[136,201],[161,171]],'#0000CC');
T('średni',48,212,'#1040D0',29);L([[82,212],[132,212],[160,176]],'#0000CC');
T('Wystąpienie opadu',6,223,RED,88);L([[98,223],[142,223]],RED);T('konwekcyjnego',6,237,RED,71);
T('Ciśnienie',5,263,'#000',42);L([[52,264],[130,264],[136,262]],'#000');T('zredukowane',5,276,'#000',66);T('do poziomu morza',5,289,'#000',87);
T('Wiatr na 10m:',5,318,'#000',67);
T('poryw powyżej skali',10,335,RED,100);L([[112,335],[118,334]],RED);L([[130,334],[138,316]],RED);
T('max porywy wiatru',10,348,RED,94);L([[107,348],[130,348],[145,340]],RED);
T('prędkość wiatru',10,368,NV,78);L([[92,368],[145,368]],NV,1.2);T('w środku obszaru',10,381,NV,88);
T('kierunek wiatru',10,410,NV,73);L([[86,410],[138,410]],NV,1.2);
T('Wierzchołek chmur',6,429,DR,91);L([[101,430],[132,430],[185,447]],DR);
T('Podstawa chmur*',6,444,'#000',85);T('o pokryciu',6,456,'#000',47);
T('> 7.9 okt.',11,468,'#000',45);L([[57,468],[134,468],[190,455]],'#000');
T('> 6.5 okt.',11,479,'#444',45);L([[57,480],[142,480]],'#444');
T('> 4.5 okt.',10,490,'#999',45);L([[57,490],[130,490],[138,500]],'#999');
T('> 2.5 okt.',10,500,'#DDD',45);L([[57,501],[130,501],[136,505]],'#DDD');
R(11,505,46,12,SKY,29);T('> 0.1 okt.',11,511,'#FFF',45);L([[57,509],[135,509]],SKY);L([[57,512],[135,512]],SKY);
T('Widzialność',6,526,AMB,57);L([[67,527],[130,527],[172,465]],AMB);
T('Chmury:',6,543,'#000',42);
R(10,551,41,12,SKY,29);T('wysokie',11,557,'#FFF',40);L([[54,555.5],[185,555.5]],SKY);L([[54,558.5],[185,558.5]],SKY);L([[54,557],[185,557]],'#FFF');
T('średnie',10,570,'#AAA',36);L([[50,571],[192,571]],'#999');
T('niskie',10,582,'#444',28);L([[40,582],[122,582]],'#444');L([[132,582],[136,582]],'#444');
T('bardzo niskie',10,593,'#222',61);L([[73,594],[148,594]],'#222');
T('Mgła',6,605,'#FFB800',22);L([[29,605],[215,605],[219,597]],'#FFB800');
T('Czas uniwersalny (UTC)',6,622,'#000',131);L([[139,623],[148,623],[157,608]],'#000');
T('* powyżej poziomu morza',5,648,'#000',{w:102,bold:true,floor:9.5});

const chart=echarts.init(document.getElementById('c'),null,{renderer:'canvas',width:820,height:660});
chart.setOption({animation:false,backgroundColor:'#fff',tooltip:{show:false},textStyle:{fontFamily:FONT},grid:grids,xAxis:xAxes,yAxis:yAxes,series,graphic:{elements:gfx}});
</script></body></html>
